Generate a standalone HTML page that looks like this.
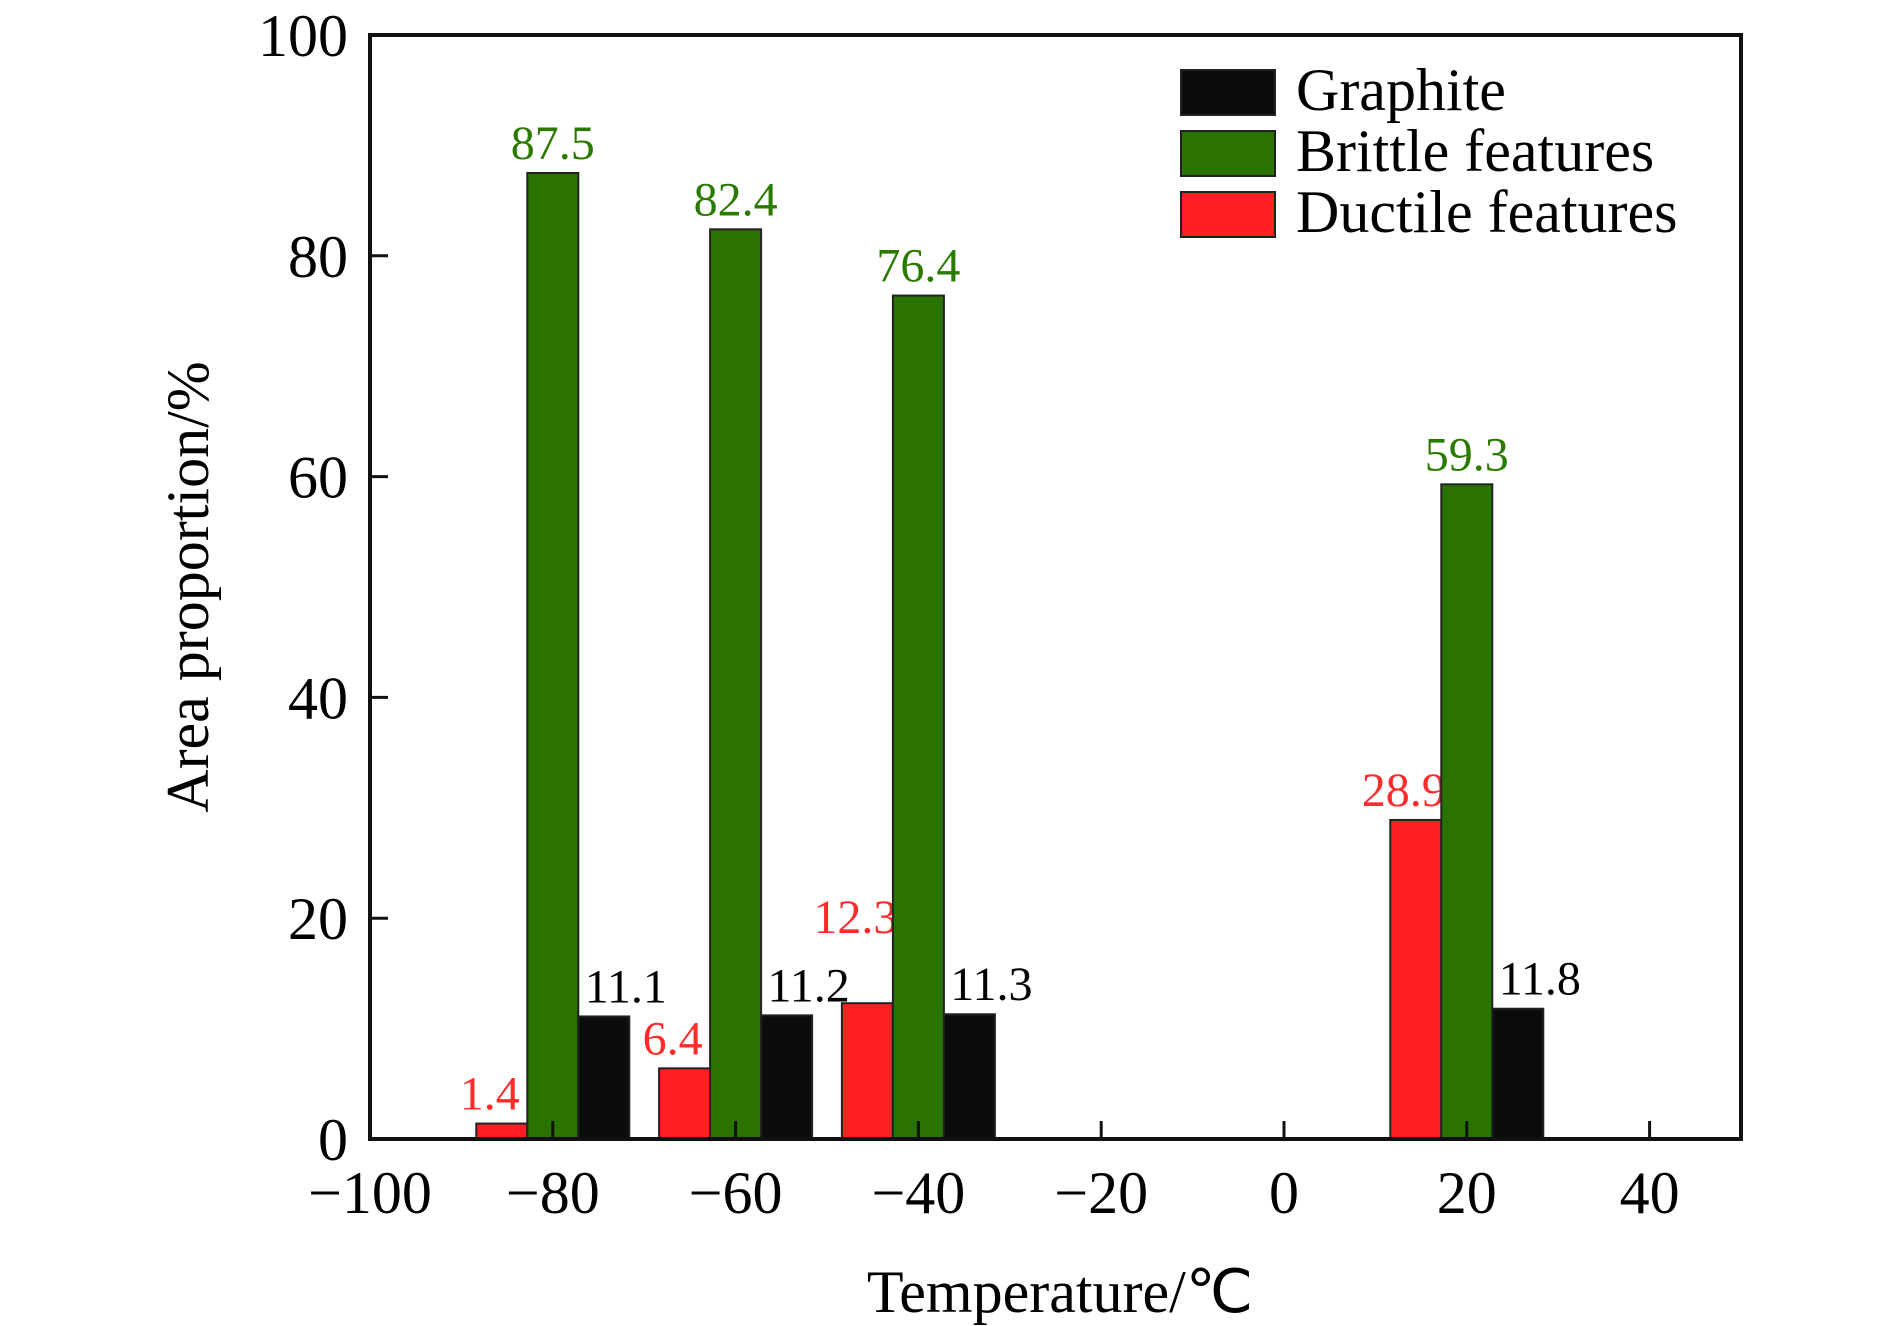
<!DOCTYPE html>
<html><head><meta charset="utf-8"><style>
body{margin:0;background:#fff}
svg{display:block;font-family:"Liberation Serif",serif}
</style></head><body>
<svg id="chart" width="1890" height="1326" viewBox="0 0 1890 1326" xmlns="http://www.w3.org/2000/svg"></svg>
<script>
const temps=[-80,-60,-40,20];
const graphite=[11.1,11.2,11.3,11.8];
const brittle=[87.5,82.4,76.4,59.3];
const ductile=[1.4,6.4,12.3,28.9];
const xTicks=[-100,-80,-60,-40,-20,0,20,40];
const yTicks=[0,20,40,60,80,100];
const seriesNames=["Graphite","Brittle features","Ductile features"];

const L=370,R=1741,T=35,B=1139;
const xs=v=>L+(v+100)/150*(R-L);
const ys=v=>B-v/100*(B-T);
const NS="http://www.w3.org/2000/svg";
const svg=document.getElementById('chart');
function mk(tag,attrs,parent){const e=document.createElementNS(NS,tag);for(const k in attrs)e.setAttribute(k,attrs[k]);(parent||svg).appendChild(e);return e;}

const barW=51;
const cols={g:"#0c0c0c",b:"#2b7300",d:"#ff2024"};
const labCols={g:"#000",b:"#2b7a00",d:"#ff2a2a"};
const groups=[[ductile,-1,"d","ductile"],[brittle,0,"b","brittle"],[graphite,1,"g","graphite"]];
groups.forEach(([arr,off,c,nm])=>{
  arr.forEach((v,i)=>{
    const cx=xs(temps[i])+off*barW;
    const r=mk('rect',{x:cx-barW/2,y:ys(v),width:barW,height:B-ys(v),fill:cols[c],stroke:"#222","stroke-width":2});
    
    
    const dx=off===1?22:(off===-1?-12:0);
    const dy=(off===-1&&v>10&&v<20)?-70:-14;
    const t=mk('text',{x:cx+dx,y:ys(v)+dy,"text-anchor":"middle","font-size":48,fill:labCols[c]});
    t.textContent=v.toFixed(1);
    
    
  });
});

// frame
const fr=mk('rect',{x:L,y:T,width:R-L,height:B-T,fill:"none",stroke:"#111","stroke-width":4});



xTicks.forEach(v=>{
  const x=xs(v);
  const tk=mk('line',{x1:x,y1:B,x2:x,y2:B-18,stroke:"#111","stroke-width":3});
  
  
  const t=mk('text',{x:x,y:1213,"text-anchor":"middle","font-size":60,fill:"#000"});
  t.textContent=(v<0?"\u2212":"")+Math.abs(v);
  
  
});
yTicks.forEach(v=>{
  const y=ys(v);
  const tk=mk('line',{x1:L,y1:y,x2:L+18,y2:y,stroke:"#111","stroke-width":3});
  
  
  const t=mk('text',{x:348,y:y+21,"text-anchor":"end","font-size":60,fill:"#000"});
  t.textContent=v;
  
  
});

const xt=mk('text',{x:1060,y:1312,"text-anchor":"middle","font-size":60,fill:"#000"});
xt.textContent="Temperature/\u2103";


const yt=mk('text',{x:0,y:0,"text-anchor":"middle","font-size":60,fill:"#000",transform:"translate(208,587) rotate(-90)"});
yt.textContent="Area proportion/%";



const legCols=[cols.g,cols.b,cols.d];
seriesNames.forEach((n,i)=>{
  const y=70+i*61;
  const g=mk('g',{});
  
  
  mk('rect',{x:1181,y:y,width:94,height:45,fill:legCols[i],stroke:"#222","stroke-width":2},g);
  const t=mk('text',{x:1296,y:y+40,"font-size":60,fill:"#000"},g);
  t.textContent=n;
});
</script>
</body></html>
